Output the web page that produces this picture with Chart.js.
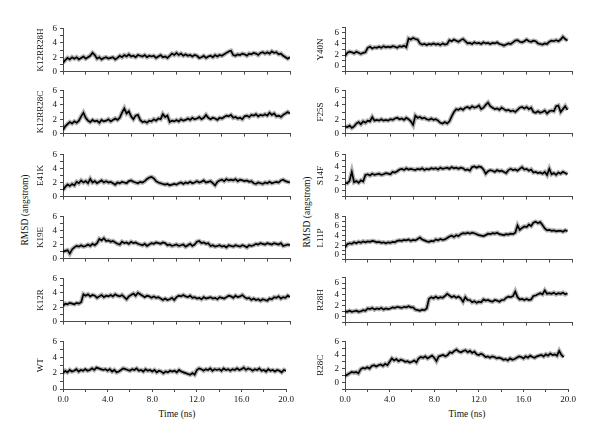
<!DOCTYPE html>
<html>
<head>
<meta charset="utf-8">
<script src="https://cdn.jsdelivr.net/npm/chart.js@4"></script>
<style>
body { margin:0; background:#fff; width:600px; height:442px; position:relative; overflow:hidden; font-family:"Liberation Serif", serif; }
canvas { position:absolute; }
.lbl { position:absolute; font-size:9.5px; color:#111; white-space:nowrap; transform:translate(-50%,-50%); }
.rot { transform:translate(-50%,-50%) rotate(-90deg); }
</style>
</head>
<body>
<div class="lbl rot" style="left:25px;top:210px">RMSD (angstrom)</div>
<div class="lbl rot" style="left:307px;top:212px">RMSD (angstrom)</div>
<div class="lbl" style="left:177px;top:414px">Time (ns)</div>
<div class="lbl" style="left:467px;top:414px">Time (ns)</div>
<script>
// time step of the trajectories (ns)
var dt = 0.2;

// tick labels
var xTickLabels = ['0.0', '4.0', '8.0', '12.0', '16.0', '20.0'];

// left column, top to bottom (0 - 20 ns)
var leftNames = ['K12RR28H', 'K12RR28C', 'E41K', 'K19E', 'K12R', 'WT'];

var rmsdK12RR28H = [
 1.2,1.6,1.9,1.7,2.0, 1.8,2.0,1.7,1.9,2.1, 1.8,2.0,2.2,2.6,2.3, 1.8,2.0,1.7,1.9,2.0,
 1.8,1.9,2.0,1.7,1.9, 2.2,2.0,2.3,2.1,2.4, 2.1,2.2,2.0,2.3,2.2, 2.1,2.3,2.0,2.2,2.1,
 2.2,1.9,2.1,2.3,2.0, 2.1,1.9,2.2,2.5,2.3, 2.6,2.3,2.5,2.2,2.4, 2.2,2.3,2.1,2.3,2.2,
 1.9,2.0,2.2,1.9,2.1, 2.2,2.0,2.3,2.1,2.3, 2.2,2.4,2.6,2.8,2.9, 2.3,2.2,2.4,2.3,2.5,
 2.4,2.2,2.5,2.4,2.6, 2.5,2.3,2.6,2.7,2.5, 2.7,2.5,2.8,2.6,2.7, 2.4,2.5,2.2,2.0,1.8,
 2.0];
var rmsdK12RR28C = [
 0.5,1.0,1.3,1.6,1.4, 1.7,1.5,1.8,2.4,2.9, 2.2,1.8,1.6,1.9,1.7, 1.8,1.5,1.9,1.7,1.8,
 2.0,1.7,1.9,2.1,1.9, 2.2,2.9,3.5,2.8,3.1, 2.4,2.0,2.5,2.6,1.9, 1.6,1.7,1.5,1.8,1.7,
 2.0,1.8,2.1,2.0,2.7, 2.3,2.5,1.6,1.8,1.7, 1.9,1.7,2.0,1.8,1.9, 2.1,1.9,2.2,2.0,2.1,
 2.3,2.0,2.2,2.6,2.2, 2.0,2.2,2.1,1.9,2.2, 2.1,2.3,2.5,2.4,2.6, 2.2,2.3,2.1,2.2,2.0,
 2.4,2.5,2.3,2.6,2.5, 2.7,2.4,2.6,2.5,2.7, 2.5,2.9,2.6,2.8,2.4, 2.5,2.3,2.6,2.8,3.0,
 2.8];
var rmsdE41K = [
 0.9,1.4,1.7,1.5,1.8, 1.6,2.1,1.9,2.3,2.0, 2.2,1.9,2.5,2.0,2.2, 1.9,2.1,2.3,2.0,2.2,
 2.0,2.1,1.9,1.7,2.0, 1.9,2.1,2.0,1.9,2.2, 2.3,2.1,2.0,1.9,2.1, 2.0,2.2,2.5,2.7,2.8,
 2.6,2.2,2.0,1.9,1.8, 1.7,1.8,1.6,1.7,1.8, 1.7,1.9,2.0,1.8,2.0, 1.9,2.1,1.9,2.0,2.2,
 2.0,2.1,2.3,2.0,2.1, 2.2,1.9,1.6,2.1,2.3, 2.4,2.2,2.5,2.3,2.4, 2.3,2.5,2.2,2.4,2.3,
 2.2,2.3,2.1,2.2,1.9, 1.8,2.0,1.9,1.8,2.0, 1.9,2.1,1.9,2.0,2.1, 2.0,2.3,2.4,2.2,2.1,
 2.0];
var rmsdK19E = [
 1.0,1.1,1.2,0.7,1.3, 1.6,1.8,1.7,1.9,1.7, 1.8,2.0,1.8,2.1,1.9, 2.2,2.8,2.6,2.9,2.5,
 2.6,2.4,2.5,2.3,2.1, 2.0,2.4,2.2,2.3,2.1, 2.4,2.2,2.3,2.1,2.0, 1.9,2.1,1.8,2.0,2.2,
 2.1,2.3,2.2,2.1,2.3, 2.2,1.9,2.0,1.8,1.9, 2.0,1.8,1.9,2.0,1.7, 1.9,2.1,1.8,2.0,2.4,
 2.5,2.2,2.3,2.1,2.2, 1.8,1.9,1.7,1.8,1.9, 1.7,1.8,1.6,1.9,1.8, 1.7,1.9,1.8,1.7,1.9,
 1.8,1.6,1.9,1.8,1.9, 2.1,2.0,2.2,2.1,2.0, 2.2,2.1,2.0,2.2,2.1, 2.0,2.2,1.8,1.9,2.0,
 1.9];
var rmsdK12R = [
 2.2,2.5,2.4,2.6,2.5, 2.4,2.6,2.5,2.7,3.8, 3.6,3.8,3.5,3.7,3.6, 3.3,3.5,3.7,3.4,3.6,
 3.5,3.7,3.5,3.8,3.6, 3.5,3.7,3.4,3.1,3.5, 3.7,3.9,3.6,4.0,3.8, 3.6,3.4,3.6,3.5,3.3,
 3.5,3.3,3.4,3.2,3.0, 3.2,3.0,3.1,3.3,3.0, 3.4,3.6,3.5,3.7,3.5, 3.4,3.6,3.3,3.4,3.2,
 3.3,3.1,3.4,3.2,3.3, 3.4,3.2,3.3,3.1,3.4, 3.3,3.2,3.4,3.6,3.5, 3.3,3.6,3.4,3.5,3.7,
 3.4,3.2,3.3,3.0,3.2, 3.0,3.1,2.9,3.1,3.0, 2.9,3.2,3.1,3.4,3.3, 3.5,3.2,3.4,3.3,3.6,
 3.4];
var rmsdWT = [
 2.0,2.3,2.1,2.4,2.2, 2.3,2.5,2.2,2.4,2.3, 2.5,2.3,2.4,2.6,2.4, 2.7,2.6,2.5,2.4,2.5,
 2.3,2.5,2.2,2.4,2.1, 2.2,2.4,2.6,2.5,2.4, 2.3,2.5,2.4,2.6,2.3, 2.4,2.2,2.5,2.3,2.4,
 2.2,2.4,2.1,2.3,2.2, 2.0,2.2,2.1,2.3,2.2, 2.3,2.1,2.4,2.2,2.1, 2.0,1.9,1.8,2.0,1.8,
 2.4,2.6,2.5,2.3,2.5, 2.4,2.6,2.3,2.5,2.4, 2.5,2.3,2.6,2.4,2.5, 2.3,2.5,2.4,2.6,2.4,
 2.5,2.7,2.4,2.6,2.5, 2.3,2.5,2.4,2.6,2.3, 2.4,2.2,2.5,2.3,2.4, 2.2,2.4,2.3,2.1,2.4,
 2.3];

// right column, top to bottom (0 - 19.6 ns)
var rightNames = ['Y40N', 'F25S', 'S14F', 'L11P', 'R28H', 'R28C'];
var rightYMin = [-1, 0, -1, -1, -1, -1];
var rightYMax = [7, 6, 6, 8, 7, 6];

var rmsdY40N = [
 1.8,2.4,2.6,2.5,2.3, 2.6,2.4,2.2,2.4,2.5, 3.3,3.5,3.2,3.4,3.3, 3.5,3.3,3.6,3.4,3.5,
 3.4,3.6,3.5,3.3,3.6, 3.5,3.7,3.4,5.0,4.8, 5.1,4.9,4.8,4.1,3.9, 4.0,3.8,4.0,3.9,4.1,
 3.9,4.0,3.8,4.1,3.9, 4.0,4.7,4.5,4.8,4.6, 4.4,4.7,4.9,4.5,4.1, 4.2,4.0,4.3,4.1,4.2,
 4.0,4.3,4.1,4.2,4.0, 4.2,4.1,4.3,4.0,3.9, 3.7,3.9,4.1,4.0,4.3, 4.6,4.7,4.4,4.3,4.5,
 4.8,4.5,4.4,4.6,4.5, 4.1,4.0,3.9,4.1,4.0, 4.4,4.6,4.5,4.7,4.5, 4.8,5.3,4.9,4.6];
var rmsdF25S = [
 1.0,0.9,1.1,0.8,1.0, 1.4,1.6,1.3,1.7,1.5, 1.8,1.7,2.3,1.8,1.9, 1.8,2.0,1.8,1.9,1.8,
 2.0,1.9,2.1,2.2,2.0, 2.1,1.9,2.2,2.0,1.7, 1.2,2.5,2.2,2.3,2.1, 2.2,2.0,1.9,2.1,1.9,
 2.0,1.8,1.5,1.4,1.6, 1.4,1.7,2.4,3.0,3.4, 3.3,3.5,3.3,3.6,3.7, 3.5,3.8,3.6,3.7,3.9,
 3.4,3.6,4.0,4.3,3.8, 3.6,3.4,3.5,3.3,3.6, 3.4,3.2,3.3,3.1,3.2, 3.0,3.3,3.6,3.7,3.5,
 3.7,3.4,3.6,3.0,2.9, 3.1,2.9,3.0,3.2,2.8, 3.1,3.2,3.1,3.8,3.9, 3.0,3.4,3.8,3.3];
var rmsdS14F = [
 1.3,1.2,1.6,3.1,1.4, 1.6,1.3,1.7,1.5,2.6, 2.7,2.5,2.8,2.6,2.7, 2.8,2.6,2.7,2.9,2.8,
 2.7,3.1,3.0,3.2,3.5, 3.6,3.4,3.7,3.5,3.6, 3.5,3.4,3.6,3.5,3.7, 3.4,3.6,3.5,3.7,3.6,
 3.7,3.5,3.8,3.6,3.7, 3.8,3.6,3.9,3.7,3.8, 3.6,3.8,3.7,3.4,3.5, 3.3,3.9,4.0,3.8,4.0,
 3.9,3.5,2.8,3.2,3.4, 3.3,3.1,3.4,3.2,3.3, 3.1,2.9,3.4,3.6,3.4, 3.5,3.3,3.6,3.9,3.5,
 3.6,3.3,3.5,3.0,3.1, 2.9,3.0,2.8,3.1,2.6, 3.6,2.7,2.9,2.6,3.0, 2.8,3.1,2.9,2.7];
var rmsdL11P = [
 1.5,2.2,2.4,2.3,2.6, 2.4,2.7,2.5,2.8,2.6, 2.8,2.7,2.9,2.8,2.6, 2.7,2.5,2.6,2.4,2.6,
 2.5,2.7,2.6,2.9,3.0, 2.9,3.1,3.0,3.2,2.9, 3.1,3.0,3.3,3.6,3.2, 3.0,2.8,2.7,2.9,2.8,
 3.2,3.0,3.3,3.1,3.2, 3.5,3.8,4.0,3.7,4.1, 3.9,4.3,4.5,4.4,4.6, 4.4,4.6,4.5,4.3,4.1,
 4.0,3.9,4.1,4.4,4.3, 4.5,4.4,4.6,4.3,4.2, 4.1,4.3,4.2,4.4,4.3, 4.6,6.1,5.2,5.6,5.9,
 5.8,6.3,6.0,6.7,6.9, 6.6,6.8,6.2,5.5,5.1, 5.2,5.0,5.1,4.9,5.0, 5.0,4.8,5.1,4.9];
var rmsdR28H = [
 1.0,0.9,1.1,0.9,1.0, 1.1,0.9,1.0,1.2,1.1, 1.5,1.4,1.6,1.3,1.5, 1.4,1.6,1.3,1.5,1.4,
 1.5,1.7,1.6,1.8,1.7, 1.6,1.8,1.7,1.9,1.7, 1.7,1.3,1.2,1.1,1.3, 1.2,1.5,3.2,3.5,3.3,
 3.6,3.3,3.5,3.4,3.7, 4.1,3.8,3.5,3.7,3.4, 3.6,3.3,2.7,3.5,3.0, 3.0,2.6,2.8,2.5,2.7,
 2.6,3.1,2.9,3.0,2.8, 2.7,3.0,2.9,2.7,3.0, 3.0,3.4,3.6,3.5,3.7, 4.5,3.5,3.1,3.2,3.0,
 3.2,3.0,3.1,3.7,3.8, 4.0,4.2,4.0,4.7,4.1, 4.2,4.1,4.3,4.0,4.2, 4.1,4.3,4.0,4.2];
var rmsdR28C = [
 0.9,1.1,1.3,1.5,1.4, 1.5,1.3,1.9,2.1,2.0, 2.2,2.0,2.4,2.5,2.3, 2.5,2.6,2.4,2.7,2.5,
 3.0,3.5,3.2,3.4,3.1, 3.3,3.2,3.0,3.1,2.9, 3.0,3.2,2.9,3.5,3.7, 3.6,3.8,3.5,3.7,3.9,
 3.6,3.1,3.8,3.9,4.0, 3.8,4.0,4.4,4.3,4.6, 4.8,4.5,4.4,4.6,4.7, 4.4,4.6,4.3,4.5,4.1,
 4.0,4.2,4.0,3.7,3.8, 3.6,3.8,3.7,3.5,3.6, 3.5,3.3,3.4,3.2,3.5, 3.3,3.4,3.6,3.8,3.7,
 3.5,3.8,3.6,3.9,3.7, 3.6,3.8,3.9,4.0,3.8, 4.1,3.9,4.2,4.0,4.1, 3.9,4.6,4.0,3.7];

var leftSeries = [rmsdK12RR28H, rmsdK12RR28C, rmsdE41K, rmsdK19E, rmsdK12R, rmsdWT];
var rightSeries = [rmsdY40N, rmsdF25S, rmsdS14F, rmsdL11P, rmsdR28H, rmsdR28C];

// plot area boxes (top / bottom of the y axis) for each panel
var leftTops = [26, 88, 152, 214, 276, 339];
var leftBottoms = [76, 138, 201, 263, 326, 389];
var rightTops = [25, 88, 152, 214, 275, 339];
var rightBottoms = [76, 138, 201, 264, 327, 389];

var axisColor = '#4a4a4a';
var textColor = '#111';
var fontFam = '"Liberation Serif", "Times New Roman", serif';

function toPoints(values) {
    var pts = [];
    for (var i = 0; i < values.length; i++) {
        pts.push({x: +(i * dt).toFixed(1), y: values[i]});
    }
    return pts;
}

function makePanel(col, top, bottom, values, yMin, yMax, name, isBottom) {
    var canvasLeft = col == 0 ? 31 : 311;
    var plotLeft = col == 0 ? 63 : 345;
    var plotRight = col == 0 ? 290 : 572;
    var canvasRight = plotRight + 6;
    var padTop = 6;
    var xh = isBottom ? 17 : 4;

    var cv = document.createElement('canvas');
    var w = canvasRight - canvasLeft;
    var h = (bottom - top) + padTop + xh;
    cv.width = w; cv.height = h;
    cv.style.left = canvasLeft + 'px';
    cv.style.top = (top - padTop) + 'px';
    cv.style.width = w + 'px';
    cv.style.height = h + 'px';
    document.body.appendChild(cv);

    var pts = toPoints(values);
    new Chart(cv.getContext('2d'), {
        type: 'line',
        data: {
            datasets: [{
                // grey fuzz round the trace
                data: pts,
                borderColor: 'rgba(0,0,0,0.3)',
                borderWidth: 4.5,
                pointRadius: 0,
                tension: 0
            }, {
                data: pts,
                borderColor: '#000',
                borderWidth: 1.7,
                pointRadius: 0,
                tension: 0
            }]
        },
        options: {
            responsive: false,
            animation: false,
            devicePixelRatio: 1,
            parsing: false,
            layout: {padding: {top: padTop, right: canvasRight - plotRight, bottom: 0, left: 0}},
            plugins: {legend: {display: false}, tooltip: {enabled: false}},
            scales: {
                x: {
                    type: 'linear', min: 0, max: 20,
                    afterFit: function (s) { s.height = xh; },
                    border: {display: true, color: axisColor, width: 1},
                    grid: {drawOnChartArea: false, drawTicks: true, tickLength: 3, color: axisColor},
                    ticks: {
                        display: isBottom, stepSize: 2, autoSkip: false, maxRotation: 0, padding: 2,
                        color: textColor, font: {family: fontFam, size: 9},
                        callback: function (v) { return v % 4 == 0 ? xTickLabels[v / 4] : ''; }
                    }
                },
                y: {
                    min: yMin, max: yMax,
                    afterFit: function (s) { s.width = plotLeft - canvasLeft; },
                    border: {display: true, color: axisColor, width: 1},
                    grid: {drawOnChartArea: false, drawTicks: true, tickLength: 3, color: axisColor},
                    ticks: {
                        stepSize: 1, autoSkip: false, padding: 3,
                        color: textColor, font: {family: fontFam, size: 9},
                        callback: function (v) { return v % 2 == 0 ? v : ''; }
                    },
                    title: {
                        display: true, text: name, color: textColor, padding: {top: 4, bottom: 0},
                        font: {family: fontFam, size: 9}
                    }
                }
            }
        }
    });
}

for (var i = 0; i < 6; i++) {
    makePanel(0, leftTops[i], leftBottoms[i], leftSeries[i], 0, 6, leftNames[i], i == 5);
    makePanel(1, rightTops[i], rightBottoms[i], rightSeries[i], rightYMin[i], rightYMax[i], rightNames[i], i == 5);
}
</script>
</body>
</html>
